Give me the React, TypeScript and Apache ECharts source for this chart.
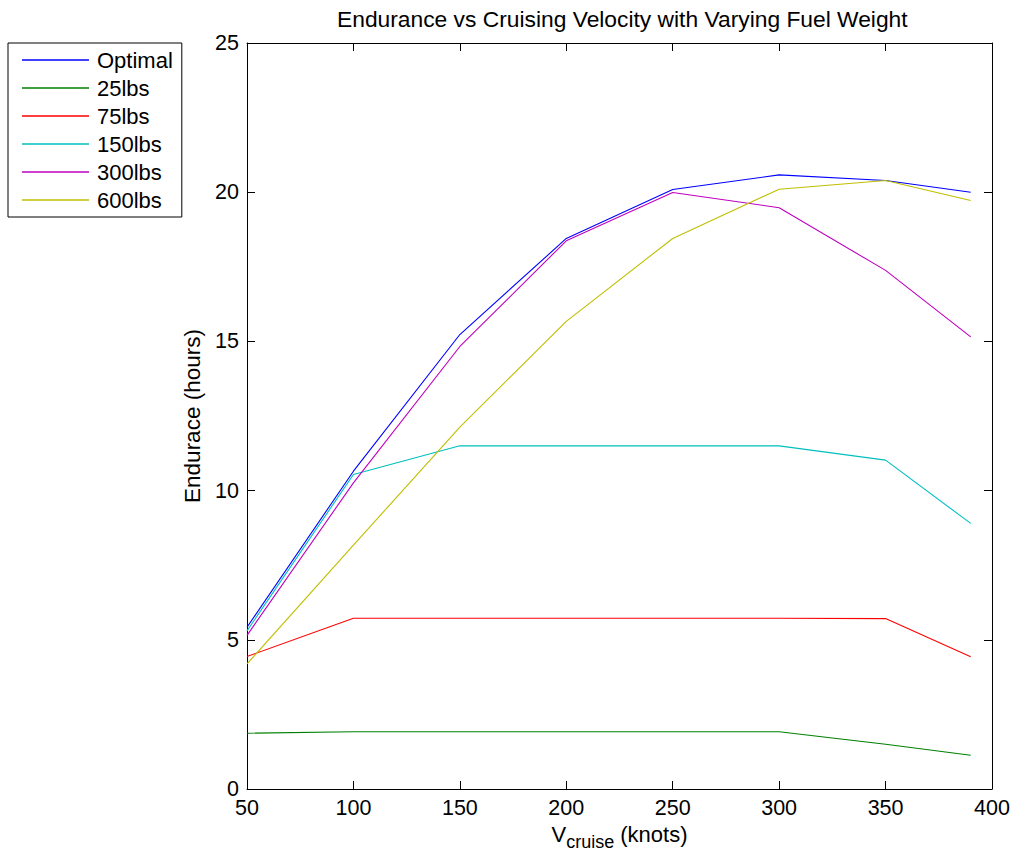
import React, { useEffect, useRef } from "react";
import * as echarts from "echarts";

const velocities = [50, 100, 150, 200, 250, 300, 350, 390];
const seriesNames = ["Optimal", "25lbs", "75lbs", "150lbs", "300lbs", "600lbs"];
const optimal = [5.42, 10.65, 15.23, 18.45, 20.09, 20.58, 20.39, 20.0];
const lbs25 = [1.87, 1.92, 1.92, 1.92, 1.92, 1.92, 1.5, 1.13];
const lbs75 = [4.44, 5.72, 5.72, 5.72, 5.72, 5.72, 5.71, 4.43];
const lbs150 = [5.3, 10.54, 11.5, 11.5, 11.5, 11.5, 11.02, 8.9];
const lbs300 = [5.15, 10.26, 14.83, 18.37, 19.99, 19.48, 17.38, 15.15];
const lbs600 = [4.19, 8.17, 12.13, 15.67, 18.45, 20.1, 20.39, 19.72];
const seriesValues = [optimal, lbs25, lbs75, lbs150, lbs300, lbs600];
const colors = ["#0000ff", "#008000", "#ff0000", "#00bfbf", "#bf00bf", "#bfbf00"];

const FONT = "'Liberation Sans', Arial, Helvetica, sans-serif";

export default function App() {
  const ref = useRef<HTMLDivElement>(null);
  useEffect(() => {
    if (!ref.current) return;
    const chart = echarts.init(ref.current, null, { renderer: "svg" });
    const axisCommon = {
      min: 50,
      max: 400,
      interval: 50,
    };
    chart.setOption({
      animation: false,
      backgroundColor: "#ffffff",
      textStyle: { fontFamily: FONT, color: "#000" },
      title: {
        text: "Endurance vs Cruising Velocity with Varying Fuel Weight",
        left: 337,
        top: 7,
        padding: 0,
        textStyle: { fontFamily: FONT, fontSize: 22.8, fontWeight: "normal", color: "#000" },
      },
      legend: {
        orient: "vertical",
        left: 8,
        top: 43,
        padding: [3, 9, 3, 14],
        itemGap: 0,
        itemWidth: 67,
        itemHeight: 1.4,
        icon: "rect",
        borderColor: "#000",
        borderWidth: 1,
        backgroundColor: "#fff",
        borderRadius: 0,
        data: seriesNames,
        textStyle: {
          fontFamily: FONT,
          fontSize: 22,
          color: "#000",
          lineHeight: 28,
          padding: [0, 0, 0, 3],
        },
      },
      grid: { left: 247, right: 26, top: 43, bottom: 68, containLabel: false },
      xAxis: [
        {
          type: "value",
          ...axisCommon,
          position: "bottom",
          name: "{v|V}{s|cruise}{v| (knots)}",
          nameLocation: "middle",
          nameGap: 33,
          nameTextStyle: {
            fontFamily: FONT,
            color: "#000",
            rich: {
              v: { fontFamily: FONT, fontSize: 22, color: "#000", verticalAlign: "top" },
              s: { fontFamily: FONT, fontSize: 18, color: "#000", verticalAlign: "top", padding: [9, 0, 0, 0] },
            },
          },
          axisLine: { show: true, onZero: false, lineStyle: { color: "#000", width: 1 } },
          axisTick: { show: true, inside: true, length: 8, lineStyle: { color: "#000" } },
          axisLabel: { fontFamily: FONT, fontSize: 21.5, color: "#000", margin: 8 },
          splitLine: { show: false },
        },
        {
          type: "value",
          ...axisCommon,
          position: "top",
          axisLine: { show: true, onZero: false, lineStyle: { color: "#000", width: 1 } },
          axisTick: { show: true, inside: true, length: 8, lineStyle: { color: "#000" } },
          axisLabel: { show: false },
          splitLine: { show: false },
        },
      ],
      yAxis: [
        {
          type: "value",
          min: 0,
          max: 25,
          interval: 5,
          position: "left",
          name: "Endurace (hours)",
          nameLocation: "middle",
          nameGap: 43,
          nameTextStyle: { fontFamily: FONT, fontSize: 22.5, color: "#000" },
          axisLine: { show: true, onZero: false, lineStyle: { color: "#000", width: 1 } },
          axisTick: { show: true, inside: true, length: 8, lineStyle: { color: "#000" } },
          axisLabel: { fontFamily: FONT, fontSize: 21.5, color: "#000", margin: 8 },
          splitLine: { show: false },
        },
        {
          type: "value",
          min: 0,
          max: 25,
          interval: 5,
          position: "right",
          axisLine: { show: true, onZero: false, lineStyle: { color: "#000", width: 1 } },
          axisTick: { show: true, inside: true, length: 8, lineStyle: { color: "#000" } },
          axisLabel: { show: false },
          splitLine: { show: false },
        },
      ],
      series: seriesNames.map((name, i) => ({
        name,
        type: "line",
        xAxisIndex: 0,
        yAxisIndex: 0,
        symbol: "none",
        color: colors[i],
        lineStyle: { color: colors[i], width: 1.1 },
        data: velocities.map((v, j) => [v, seriesValues[i][j]]),
      })),
    });
    return () => chart.dispose();
  }, []);
  return (
    <div
      ref={ref}
      style={{ position: "fixed", left: 0, top: 0, width: 1018, height: 857, background: "#fff" }}
    />
  );
}
